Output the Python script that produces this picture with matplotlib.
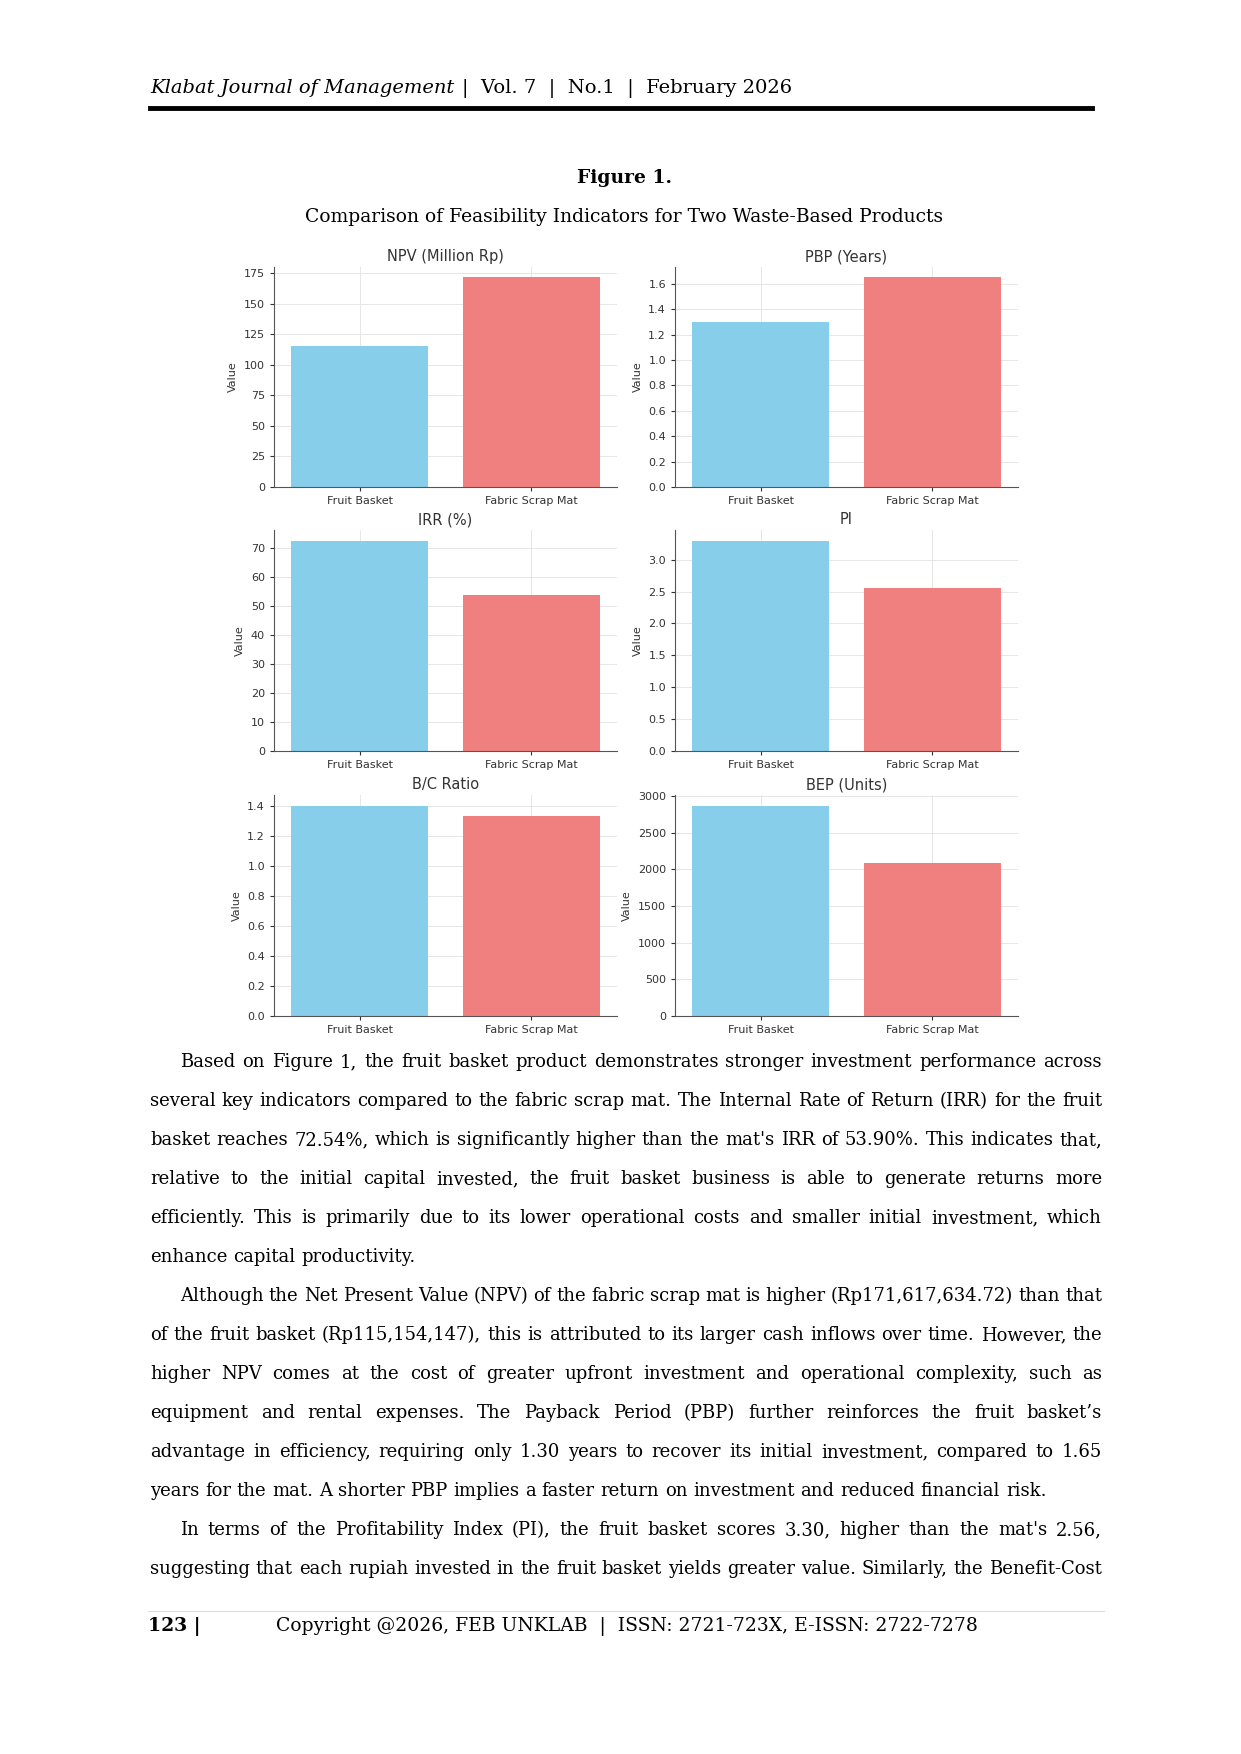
import matplotlib
matplotlib.use('Agg')
import matplotlib.pyplot as plt
from matplotlib.ticker import MultipleLocator

W, H = 1241, 1754
products = ['Fruit Basket', 'Fabric Scrap Mat']
colors = ['#87CEEB', '#F08080']
titles = ['NPV (Million Rp)', 'PBP (Years)', 'IRR (%)', 'PI', 'B/C Ratio', 'BEP (Units)']
npv = [115.15, 171.62]
pbp = [1.30, 1.65]
irr = [72.54, 53.90]
pi = [3.30, 2.56]
bcr = [1.40, 1.33]
bep = [2870, 2090]
series = [npv, pbp, irr, pi, bcr, bep]
steps = [25, 0.2, 10, 0.5, 0.2, 500]

body = [
    ('Based on Figure 1, the fruit basket product demonstrates stronger investment performance across', True, 30),
    ('several key indicators compared to the fabric scrap mat. The Internal Rate of Return (IRR) for the fruit', True, 0),
    ("basket reaches 72.54%, which is significantly higher than the mat's IRR of 53.90%. This indicates that,", True, 0),
    ('relative to the initial capital invested, the fruit basket business is able to generate returns more', True, 0),
    ('efficiently. This is primarily due to its lower operational costs and smaller initial investment, which', True, 0),
    ('enhance capital productivity.', False, 0),
    ('Although the Net Present Value (NPV) of the fabric scrap mat is higher (Rp171,617,634.72) than that', True, 30),
    ('of the fruit basket (Rp115,154,147), this is attributed to its larger cash inflows over time. However, the', True, 0),
    ('higher NPV comes at the cost of greater upfront investment and operational complexity, such as', True, 0),
    ('equipment and rental expenses. The Payback Period (PBP) further reinforces the fruit basket\u2019s', True, 0),
    ('advantage in efficiency, requiring only 1.30 years to recover its initial investment, compared to 1.65', True, 0),
    ('years for the mat. A shorter PBP implies a faster return on investment and reduced financial risk.', False, 0),
    ("In terms of the Profitability Index (PI), the fruit basket scores 3.30, higher than the mat's 2.56,", True, 30),
    ('suggesting that each rupiah invested in the fruit basket yields greater value. Similarly, the Benefit-Cost', True, 0),
]

fig = plt.figure(figsize=(W / 100, H / 100), dpi=100)
fig.patch.set_facecolor('white')
serif = 'DejaVu Serif'


def fx(x):
    return x / W


def fy(y):
    return 1 - y / H


fig.canvas.draw()
r = fig.canvas.get_renderer()

# header
h1 = fig.text(fx(150), fy(88), 'Klabat Journal of Management', style='italic', family=serif,
              fontsize=14, va='center')
w1 = h1.get_window_extent(r).width
fig.text(fx(150 + w1 + 8), fy(88), '|  Vol. 7  |  No.1  |  February 2026', family=serif,
         fontsize=14, va='center')
fig.add_artist(plt.Line2D([fx(150), fx(1092)], [fy(108), fy(108)], color='black', lw=3.5))

fig.text(0.503, fy(178), 'Figure 1.', weight='bold', family=serif, fontsize=13.5,
         ha='center', va='center')
fig.text(0.503, fy(217), 'Comparison of Feasibility Indicators for Two Waste-Based Products',
         family=serif, fontsize=13.5, ha='center', va='center')

# charts
xs = [274, 675]
ys = [(267, 487), (530, 751), (795, 1016)]
for i, vals in enumerate(series):
    x0 = xs[i % 2]
    y0, y1 = ys[i // 2]
    ax = fig.add_axes([fx(x0), fy(y1), fx(343), (y1 - y0) / H])
    ax.bar(products, vals, color=colors, width=0.8)
    ax.set_title(titles[i], fontsize=10.5, color='#333333', pad=4)
    ax.set_ylabel('Value', fontsize=8, color='#333333')
    ax.tick_params(labelsize=8, colors='#333333', length=3)
    ax.yaxis.set_major_locator(MultipleLocator(steps[i]))
    ax.grid(True, color='#e6e6e6', lw=0.7)
    ax.set_axisbelow(True)
    for s in ['top', 'right']:
        ax.spines[s].set_visible(False)
    for s in ['left', 'bottom']:
        ax.spines[s].set_color('#555555')
    ax.set_xlim(-0.5, 1.5)
    ax.set_ylim(0, max(vals) * 1.05)

# body text, justified
left, right = 150, 1102
y = 1067
for line, just, indent in body:
    words = line.split(' ')
    ts = [fig.text(0, 0, w, family=serif, fontsize=13, va='baseline') for w in words]
    widths = [t.get_window_extent(r).width for t in ts]
    x = left + indent
    if just and len(words) > 1:
        gap = (right - x - sum(widths)) / (len(words) - 1)
    else:
        gap = r.points_to_pixels(13) * 0.32
    for t, w in zip(ts, widths):
        t.set_position((fx(x), fy(y)))
        x += w + gap
    y += 39

fig.add_artist(plt.Line2D([fx(148), fx(1104)], [fy(1611), fy(1611)], color='#dddddd', lw=0.8))
fig.text(fx(148), fy(1627), '123 |', weight='bold', family=serif, fontsize=13.5, va='center')
fig.text(fx(276), fy(1627), 'Copyright @2026, FEB UNKLAB  |  ISSN: 2721-723X, E-ISSN: 2722-7278',
         family=serif, fontsize=13.5, va='center')

fig.savefig('out.png', dpi=100)
